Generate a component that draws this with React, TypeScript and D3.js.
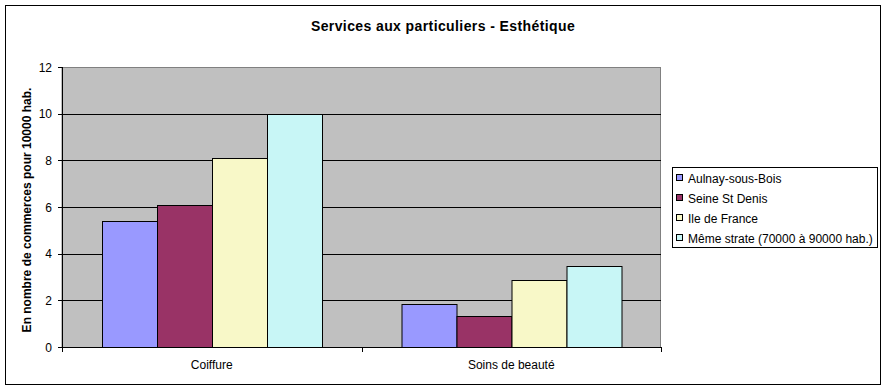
import React from "react";
import * as d3 from "d3";

const categories = ["Coiffure", "Soins de beauté"];
const seriesNames = [
  "Aulnay-sous-Bois",
  "Seine St Denis",
  "Ile de France",
  "Même strate (70000 à 90000 hab.)",
];
const aulnay = [5.39, 1.83];
const seineStDenis = [6.07, 1.31];
const ileDeFrance = [8.08, 2.86];
const memeStrate = [9.97, 3.46];
const yTicks = [0, 2, 4, 6, 8, 10, 12];

const seriesValues = [aulnay, seineStDenis, ileDeFrance, memeStrate];
const colors = ["#9999FF", "#993366", "#F8F8C8", "#C8F6F6"];

const W = 887;
const H = 390;
const plot = { left: 62, right: 661, top: 67, bottom: 347 };
const font = "'Liberation Sans', Arial, sans-serif";

export default function App() {
  const x = d3
    .scaleBand()
    .domain(categories)
    .range([plot.left, plot.right]);
  const inner = d3
    .scaleBand()
    .domain(seriesNames)
    .range([0, x.bandwidth()])
    .paddingOuter(0.73);
  const y = d3.scaleLinear().domain([0, 12]).range([plot.bottom, plot.top]);

  return (
    <svg
      width={W}
      height={H}
      style={{ position: "absolute", left: 0, top: 0, background: "#fff" }}
      fontFamily={font}
    >
      <rect x={5.5} y={5.5} width={875} height={379} fill="#fff" stroke="#000" strokeWidth={1} />

      <text x={443} y={31} textAnchor="middle" fontSize={14} fontWeight="bold" letterSpacing={0.4}>
        Services aux particuliers - Esthétique
      </text>

      {/* plot area */}
      <rect
        x={plot.left}
        y={plot.top + 0.5}
        width={plot.right - plot.left - 0.5}
        height={plot.bottom - plot.top}
        fill="#C0C0C0"
        stroke="#808080"
      />
      {yTicks.slice(1, -1).map((t) => (
        <line key={t} x1={plot.left} x2={plot.right} y1={Math.round(y(t)) + 0.5} y2={Math.round(y(t)) + 0.5} stroke="#000" />
      ))}

      {categories.map((c, ci) => (
        <g key={c} transform={`translate(${x(c)},0)`}>
          {seriesValues.map((vals, si) => (
            <rect
              key={si}
              x={Math.round(inner(seriesNames[si]) as number) + 0.5}
              y={Math.round(y(vals[ci])) + 0.5}
              width={Math.round(inner.bandwidth())}
              height={plot.bottom - Math.round(y(vals[ci]))}
              fill={colors[si]}
              stroke="#000"
            />
          ))}
        </g>
      ))}

      {/* axes */}
      <line x1={plot.left + 0.5} x2={plot.left + 0.5} y1={plot.top} y2={plot.bottom + 0.5} stroke="#000" />
      <line x1={plot.left} x2={plot.right} y1={plot.bottom + 0.5} y2={plot.bottom + 0.5} stroke="#000" />
      {yTicks.map((t) => (
        <g key={t}>
          <line x1={plot.left - 4} x2={plot.left} y1={Math.round(y(t)) + 0.5} y2={Math.round(y(t)) + 0.5} stroke="#000" />
          <text x={plot.left - 10} y={y(t) + 4.5} textAnchor="end" fontSize={12}>
            {t}
          </text>
        </g>
      ))}
      {[plot.left, (plot.left + plot.right) / 2, plot.right].map((tx, i) => (
        <line key={i} x1={Math.round(tx) + 0.5} x2={Math.round(tx) + 0.5} y1={plot.bottom} y2={plot.bottom + 5} stroke="#000" />
      ))}
      {categories.map((c) => (
        <text key={c} x={(x(c) as number) + x.bandwidth() / 2} y={369} textAnchor="middle" fontSize={12}>
          {c}
        </text>
      ))}

      <text
        transform={`translate(31,${(plot.top + plot.bottom) / 2 + 3}) rotate(-90)`}
        textAnchor="middle"
        fontSize={12}
        fontWeight="bold"
      >
        En nombre de commerces pour 10000 hab.
      </text>

      {/* legend */}
      <rect x={672.5} y={167.5} width={205} height={80} fill="#fff" stroke="#000" />
      {seriesNames.map((s, i) => (
        <g key={s} transform={`translate(676,${178 + i * 20})`}>
          <rect x={0.5} y={-3.5} width={6} height={6} fill={colors[i]} stroke="#000" />
          <text x={12} y={4.5} fontSize={12}>
            {s}
          </text>
        </g>
      ))}
    </svg>
  );
}
